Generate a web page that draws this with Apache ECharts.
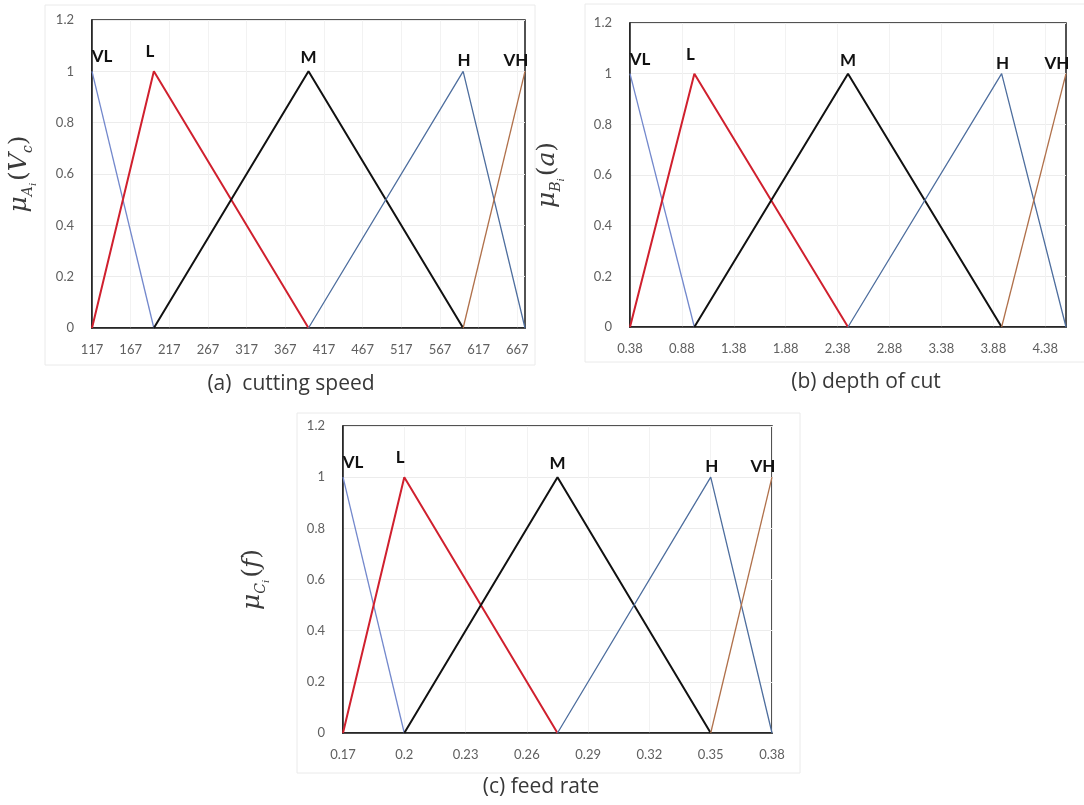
<!DOCTYPE html>
<html>
<head>
<meta charset="utf-8">
<script src="https://cdn.jsdelivr.net/npm/echarts@6/dist/echarts.min.js"></script>
<style>
html,body{margin:0;padding:0;background:#fff;}
#chart{width:1084px;height:805px;}
</style>
</head>
<body>
<div id="chart"></div>
<script>
// ---- data ----
const termNames = ['VL', 'L', 'M', 'H', 'VH'];

// (a) cutting speed : membership function vertices [x, mu]
const speedVL = [[117, 1], [197, 0]];
const speedL  = [[117, 0], [197, 1], [397, 0]];
const speedM  = [[197, 0], [397, 1], [597, 0]];
const speedH  = [[397, 0], [597, 1], [677, 0]];
const speedVH = [[597, 0], [677, 1]];
const speedTicks = [117, 167, 217, 267, 317, 367, 417, 467, 517, 567, 617, 667];
const speedRange = [117, 677];

// (b) depth of cut
const depthVL = [[0.38, 1], [1.0, 0]];
const depthL  = [[0.38, 0], [1.0, 1], [2.48, 0]];
const depthM  = [[1.0, 0], [2.48, 1], [3.96, 0]];
const depthH  = [[2.48, 0], [3.96, 1], [4.58, 0]];
const depthVH = [[3.96, 0], [4.58, 1]];
const depthTicks = [0.38, 0.88, 1.38, 1.88, 2.38, 2.88, 3.38, 3.88, 4.38];
const depthRange = [0.38, 4.58];

// (c) feed rate
const feedVL = [[0.17, 1], [0.2, 0]];
const feedL  = [[0.17, 0], [0.2, 1], [0.275, 0]];
const feedM  = [[0.2, 0], [0.275, 1], [0.35, 0]];
const feedH  = [[0.275, 0], [0.35, 1], [0.38, 0]];
const feedVH = [[0.35, 0], [0.38, 1]];
const feedTicks = [0.17, 0.2, 0.23, 0.26, 0.29, 0.32, 0.35, 0.38];
const feedRange = [0.17, 0.38];

const captions = ['(a)  cutting speed', '(b) depth of cut', '(c) feed rate'];

// ---- styling ----
const termColors = ['#7388CC', '#D0202E', '#111111', '#4E6E9E', '#B0704A'];
const termWidths = [1.3, 2, 2, 1.3, 1.3];
const labelOffsets = [[10, 2], [-4, -3], [0, 3], [1, 6], [-9, 6]];

const grids = [
  {left: 92, top: 20, width: 433, height: 308},
  {left: 630, top: 23, width: 436, height: 304},
  {left: 343, top: 426, width: 429, height: 307}
];

const mc = '#3a3a3a';
const mathRich = {
  m: {fontFamily: 'DejaVu Serif', fontStyle: 'italic', fontSize: 25, color: mc, verticalAlign: 'middle'},
  s: {fontFamily: 'DejaVu Serif', fontStyle: 'italic', fontSize: 14, color: mc, verticalAlign: 'bottom', padding: [0, 0, -3, 0]},
  ss: {fontFamily: 'DejaVu Serif', fontStyle: 'italic', fontSize: 10, color: mc, verticalAlign: 'bottom', padding: [0, 2, -6, 0]},
  p: {fontFamily: 'DejaVu Serif', fontSize: 25, color: mc, verticalAlign: 'middle'}
};
const yNames = [
  '{m|μ}{s|A}{ss|i}{p|(}{m|V}{s|c}{p|)}',
  '{m|μ}{s|B}{ss|i}{p|(}{m|a}{p|)}',
  '{m|μ}{s|C}{ss|i}{p|(}{m|f}{p|)}'
];
const yNameGaps = [60, 70, 78];

const setsData = [
  [speedVL, speedL, speedM, speedH, speedVH],
  [depthVL, depthL, depthM, depthH, depthVH],
  [feedVL, feedL, feedM, feedH, feedVH]
];
const ranges = [speedRange, depthRange, feedRange];
const ticks = [speedTicks, depthTicks, feedTicks];

const xAxes = [], yAxes = [], series = [];
for (let g = 0; g < 3; g++) {
  xAxes.push({
    type: 'value', gridIndex: g, min: ranges[g][0], max: ranges[g][1],
    axisLine: {show: true, onZero: false, lineStyle: {color: '#1a1a1a', width: 1.5}},
    axisTick: {show: false, customValues: ticks[g]},
    axisLabel: {customValues: ticks[g], color: '#606060', fontFamily: 'Lato', fontSize: 13, margin: 15,
      formatter: v => String(+v.toFixed(3))},
    splitLine: {show: true, lineStyle: {color: '#F2F2F2', width: 1}}
  });
  yAxes.push({
    type: 'value', gridIndex: g, min: 0, max: 1.2, interval: 0.2,
    axisLine: {show: true, lineStyle: {color: '#1a1a1a', width: 1.5}},
    axisTick: {show: false},
    axisLabel: {color: '#606060', fontFamily: 'Lato', fontSize: 13, margin: 18,
      formatter: v => String(+v.toFixed(1))},
    splitLine: {show: true, lineStyle: {color: '#ECECEC', width: 1}},
    name: yNames[g], nameLocation: 'middle', nameRotate: 90, nameGap: yNameGaps[g],
    nameTextStyle: {rich: mathRich}
  });
  for (let t = 0; t < 5; t++) {
    const pts = setsData[g][t];
    series.push({
      type: 'line', xAxisIndex: g, yAxisIndex: g, name: termNames[t],
      symbol: 'circle', symbolSize: 0, showSymbol: true, silent: true, animation: false,
      lineStyle: {color: termColors[t], width: termWidths[t]},
      itemStyle: {color: termColors[t]},
      data: pts.map(p => p[1] === 1 ? {
        value: p,
        label: {show: true, position: 'top', distance: 8, offset: labelOffsets[t],
          formatter: termNames[t], color: '#111', fontFamily: 'Lato', fontWeight: 'bold', fontSize: 17}
      } : {value: p, label: {show: false}})
    });
  }
}

const captionPos = [[291, 384], [866, 382], [541, 787]];
const graphic = [
  {type: 'rect', shape: {x: 45, y: 5, width: 490, height: 360}, style: {fill: 'none', stroke: '#EAEAEA', lineWidth: 1}, silent: true, z: -1},
  {type: 'rect', shape: {x: 585, y: 4, width: 520, height: 358}, style: {fill: 'none', stroke: '#EAEAEA', lineWidth: 1}, silent: true, z: -1},
  {type: 'rect', shape: {x: 297, y: 413, width: 503, height: 360}, style: {fill: 'none', stroke: '#EAEAEA', lineWidth: 1}, silent: true, z: -1}
];
for (let g = 0; g < 3; g++) {
  graphic.push({
    type: 'text', x: captionPos[g][0], y: captionPos[g][1],
    style: {text: captions[g], fill: '#383838', fontFamily: 'Open Sans', fontSize: 21, align: 'center', verticalAlign: 'middle'}
  });
}

const chart = echarts.init(document.getElementById('chart'), null, {renderer: 'canvas'});
chart.setOption({
  animation: false,
  backgroundColor: '#ffffff',
  grid: grids.map(gr => Object.assign({show: true, borderColor: '#1a1a1a', borderWidth: 1.5, backgroundColor: 'transparent', containLabel: false}, gr)),
  xAxis: xAxes,
  yAxis: yAxes,
  series: series,
  graphic: graphic
});
</script>
</body>
</html>
